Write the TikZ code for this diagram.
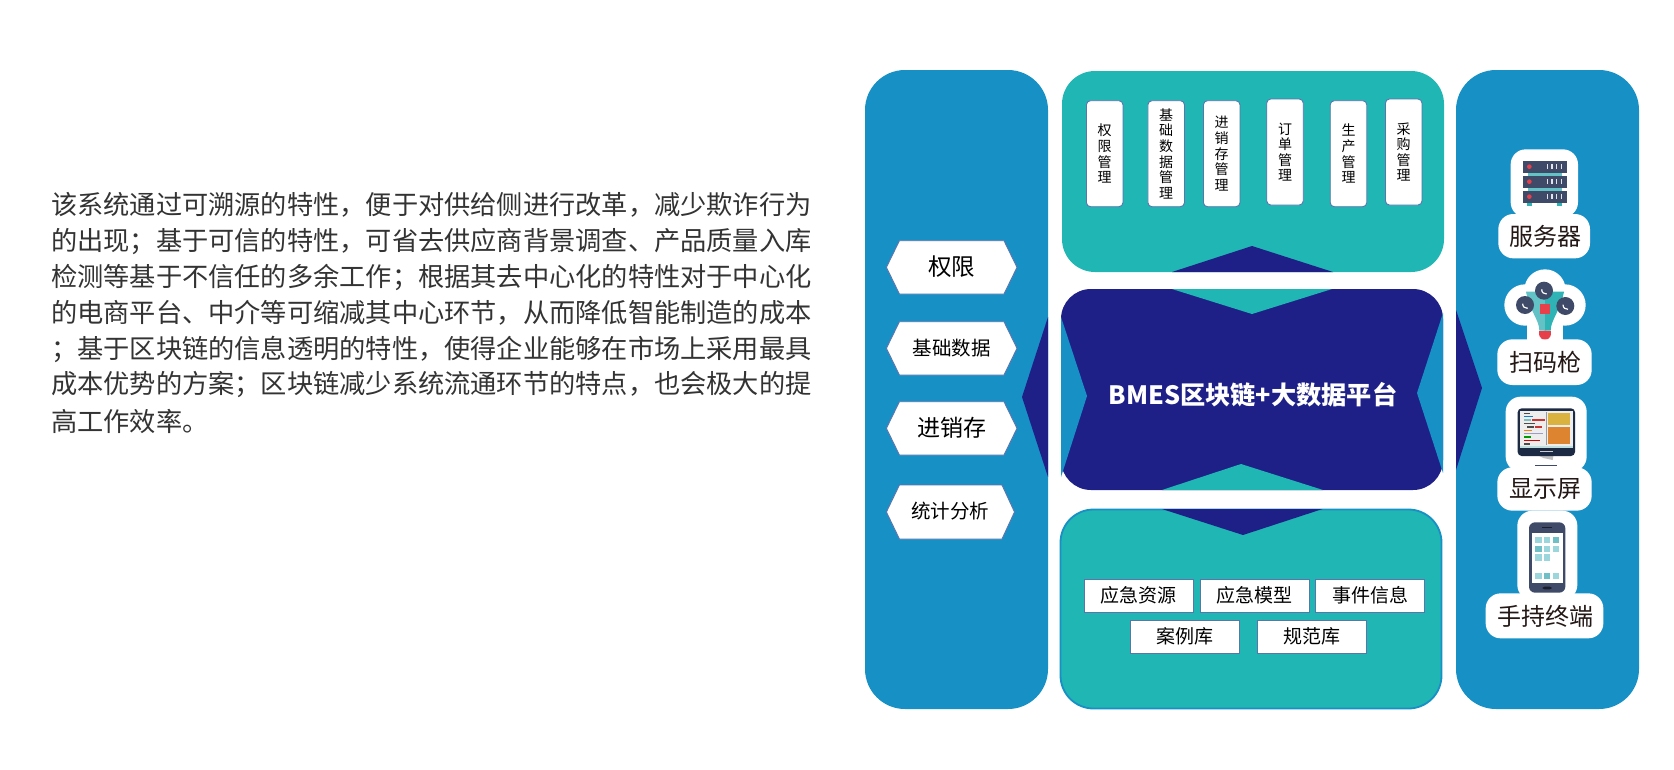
\documentclass[tikz,border=0pt]{standalone}
\usepackage{fontspec}
\setmainfont{Noto Sans CJK SC}
\definecolor{pblue}{HTML}{1790C6}
\definecolor{pteal}{HTML}{20B6B4}
\definecolor{pnavy}{HTML}{1E2088}
\definecolor{edgeb}{HTML}{5A74AC}
\definecolor{txt}{HTML}{333333}
\definecolor{slate}{HTML}{3E4A68}
\definecolor{ired}{HTML}{E8404A}
\definecolor{iteal}{HTML}{2FB3B5}
\definecolor{iteall}{HTML}{62C2C6}
\definecolor{sq}{HTML}{9AD6DC}
\definecolor{sqd}{HTML}{6FC0C6}
\definecolor{lab}{HTML}{231815}
\definecolor{mon}{HTML}{1C2A44}
\definecolor{myel}{HTML}{D9B240}
\definecolor{mora}{HTML}{DD8430}
\tikzset{
  para/.style={anchor=west,inner sep=0pt,text=txt,font=\fontsize{26.22}{30}\selectfont},
  vbox/.style={draw=edgeb,line width=0.9pt,fill=white,rounded corners=4pt,align=center,font=\fontsize{14}{15.6}\selectfont,text=black,inner sep=0pt},
  rbox/.style={draw=edgeb,line width=0.9pt,fill=white},
  hexa/.style={draw=edgeb,line width=0.9pt,fill=white},
  blob/.style={fill=white,rounded corners=15pt},
  lbl/.style={inner sep=0pt,text=black},
  slbl/.style={inner sep=0pt,text=lab,font=\fontsize{24}{26}\selectfont},
  icon/.style={shift={(1440,130)},x=0.33333pt,y=-0.33333pt},
  icontwo/.style={shift={(1440,380)},x=0.33333pt,y=-0.33333pt},
}
\begin{document}
\begin{tikzpicture}[x=1pt,y=-1pt]
\useasboundingbox (0,0) rectangle (1674,769);
\fill[white] (0,0) rectangle (1674,769);
% paragraph
\node[para] (l1) at (51,205) {该系统通过可溯源的特性，便于对供给侧进行改革，减少欺诈行为};
\node[para] (l2) at (51,241) {的出现；基于可信的特性，可省去供应商背景调查、产品质量入库};
\node[para] (l3) at (51,277) {检测等基于不信任的多余工作；根据其去中心化的特性对于中心化};
\node[para] (l4) at (51,313) {的电商平台、中介等可缩减其中心环节，从而降低智能制造的成本};
\node[para] (l5) at (51,349) {；基于区块链的信息透明的特性，使得企业能够在市场上采用最具};
\node[para] (l6) at (51,385) {成本优势的方案；区块链减少系统流通环节的特点，也会极大的提};
\node[para] (l7) at (51,421) {高工作效率。};
% panels
\fill[pblue,rounded corners=40pt] (865,70) rectangle (1048,709);
\fill[pblue,rounded corners=40pt] (1456,70) rectangle (1639,709);
\fill[pnavy] (1048,317) -- (1022,397) -- (1048,477) -- cycle;
\fill[pnavy] (1456,310) -- (1482,388) -- (1456,470) -- cycle;
\fill[pteal,rounded corners=33pt] (1062,71) rectangle (1444,272);
\fill[pnavy] (1172,272) -- (1252,246) -- (1333,272) -- cycle;
\fill[pnavy,rounded corners=30pt] (1061,289) rectangle (1443,490);
\fill[pteal] (1172,289) -- (1252,314) -- (1332,289) -- cycle;
\fill[pteal] (1162,490) -- (1241,464) -- (1323,490) -- cycle;
\fill[pblue] (1061,317) -- (1087,396) -- (1061,477) -- cycle;
\fill[pblue] (1443,313) -- (1417,393) -- (1443,473) -- cycle;
\filldraw[fill=pteal,draw=pblue,line width=1.8pt,rounded corners=33pt] (1060.5,509.5) rectangle (1441.5,708.5);
\fill[pnavy] (1162,509) -- (1243,535) -- (1322.5,509) -- cycle;
\node[inner sep=0pt,text=white,font=\fontsize{25.2}{30}\selectfont\bfseries] (title) at (1253,395) {BMES区块链+大数据平台};
% vertical boxes
\node[vbox,minimum width=36.5pt,minimum height=106pt] (v1) at (1104.7,153.7) {权\\限\\管\\理};
\node[vbox,minimum width=36.5pt,minimum height=106pt] (v2) at (1166.2,153.7) {基\\础\\数\\据\\管\\理};
\node[vbox,minimum width=36.5pt,minimum height=106pt] (v3) at (1221.7,153.7) {进\\销\\存\\管\\理};
\node[vbox,minimum width=36.5pt,minimum height=106pt] (v4) at (1285,152) {订\\单\\管\\理};
\node[vbox,minimum width=36.5pt,minimum height=106pt] (v5) at (1348.5,153.7) {生\\产\\管\\理};
\node[vbox,minimum width=36.5pt,minimum height=106pt] (v6) at (1403.7,152) {采\\购\\管\\理};
% hexagons
\filldraw[hexa] (886.4,267.3) -- (899.4,240.7) -- (1004,240.7) -- (1017,267.3) -- (1004,294) -- (899.4,294) -- cycle;
\node[lbl,font=\fontsize{23.5}{26}\selectfont] (h1) at (951.6,267) {权限};
\filldraw[hexa] (886.4,348.3) -- (899.4,321.7) -- (1004,321.7) -- (1017,348.3) -- (1004,375) -- (899.4,375) -- cycle;
\node[lbl,font=\fontsize{19.5}{22}\selectfont] (h2) at (951.6,348) {基础数据};
\filldraw[hexa] (886.4,428.3) -- (899.4,401.7) -- (1004,401.7) -- (1017,428.3) -- (1004,455) -- (899.4,455) -- cycle;
\node[lbl,font=\fontsize{23}{26}\selectfont] (h3) at (951.6,428) {进销存};
\filldraw[hexa] (886.4,512) -- (899.4,485) -- (1002,485) -- (1014.5,512) -- (1002,539) -- (899.4,539) -- cycle;
\node[lbl,font=\fontsize{19.5}{22}\selectfont] (h4) at (950,511.5) {统计分析};
% bottom boxes
\tikzset{bt/.style={rbox,inner sep=0pt,font=\fontsize{19}{22}\selectfont,text=black,minimum width=109pt,minimum height=33pt}}
\node[bt] (b1) at (1138.5,595.5) {应急资源};
\node[bt] (b2) at (1254.5,595.5) {应急模型};
\node[bt] (b3) at (1370,595.5) {事件信息};
\node[bt] (b4) at (1185.2,636.5) {案例库};
\node[bt] (b5) at (1312,636.5) {规范库};
% server icon
\begin{scope}[icon]
\fill[blob] (212,58) rectangle (414,262);
\fill[iteall] (265,128) rectangle (365,183);
\fill[iteal] (262,218) rectangle (275,228);
\fill[iteal] (352,218) rectangle (365,228);
\foreach \yy in {93,138,183}{
  \fill[slate] (248,\yy) rectangle (380,\yy+35);
  \fill[ired] (268,\yy+17) circle (7);
  \foreach \xx in {320,334,348,362}{\fill[white!85!slate] (\xx,\yy+10) rectangle (\xx+4,\yy+25);}
}
\fill[blob] (175,252) rectangle (450,385);
\end{scope}
\node[slbl] (s1) at (1545,236) {服务器};
% scanner icon
\begin{scope}[icon]
\fill[white] (315,480) circle (62);
\fill[white] (255,525) circle (62);
\fill[white] (375,525) circle (62);
\fill[white] (262,560) rectangle (368,650);
\fill[iteall] (258,485) -- (315,485) -- (315,602) -- (298,602) .. controls (298,570) and (270,545) .. (258,485) -- cycle;
\fill[iteal] (315,485) -- (372,485) .. controls (360,545) and (332,570) .. (332,602) -- (315,602) -- cycle;
\fill[ired,rounded corners=6pt] (298,602) rectangle (332,630);
\fill[ired] (298,602) rectangle (332,615);
\fill[ired] (300,523) rectangle (330,552);
\foreach \cx/\cy in {312/482,255/525,376/528}{
  \fill[slate] (\cx,\cy) circle (27);
  \draw[white,line width=1.2pt] (\cx-7,\cy-4) .. controls (\cx-7,\cy+6) and (\cx,\cy+10) .. (\cx+8,\cy+10);
}
\fill[blob] (172,628) rectangle (455,765);
\end{scope}
\node[slbl] (s2) at (1545,362) {扫码枪};
% monitor icon
\begin{scope}[icontwo]
\fill[blob] (197,50) rectangle (440,275);
\fill[black!25] (298,228) -- (340,228) -- (338,240) -- (310,234) -- cycle;
\fill[slate] (285,255) rectangle (352,259);
\fill[mon,rounded corners=4pt] (233,85) rectangle (405,228);
\fill[black!7] (240,93) rectangle (398,197);
\fill[white!75!teal] (240,197) rectangle (398,205);
\fill[black!40] (319,95) rectangle (321,195);
\fill[myel] (325,98) rectangle (390,135);
\fill[mora] (325,140) rectangle (390,193);
\fill[white!80!black] (300,212) rectangle (338,216);
\foreach \ya/\xa/\xb/\cc in {100/252/270/black!70,109/252/280/cyan!60!blue,120/252/272/teal!50,120/276/314/red!60!gray,130/252/284/black!70,141/262/283/black!70,141/285/306/red!60!gray,151/252/277/orange,161/252/309/blue!30!gray!60,171/252/273/green!60!black,182/252/300/red!85!black,192/252/270/black!70}{
  \fill[\cc] (\xa,\ya-1.8) rectangle (\xb,\ya+1.8);
}
\fill[blob] (172,262) rectangle (455,392);
\end{scope}
\node[slbl] (s3) at (1545,489) {显示屏};
% phone icon
\begin{scope}[icontwo]
\fill[blob] (232,392) rectangle (412,660);
\fill[slate,rounded corners=6pt] (267,427) rectangle (376,638);
\fill[white] (275,460) rectangle (369,608);
\fill[black!60!slate] (305,441) rectangle (337,444);
\fill[black!60!slate,rounded corners=2pt] (308,620) rectangle (335,628);
\foreach \xx/\yy/\cc in {285/470/sq,311/470/sq,338/470/sqd,285/497/sqd,311/497/sq,338/497/sq,285/523/sq,311/523/sq,285/578/sq,311/578/sqd,338/578/sq}{
  \fill[\cc] (\xx,\yy) rectangle (\xx+20,\yy+20);
}
\fill[blob] (137,640) rectangle (490,775);
\end{scope}
\node[slbl] (s4) at (1545,616) {手持终端};
\end{tikzpicture}
\end{document}
